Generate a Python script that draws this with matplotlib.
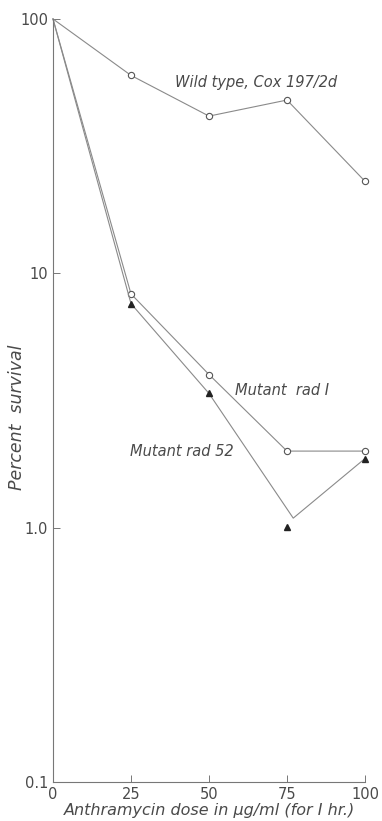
import matplotlib.pyplot as plt
import matplotlib.ticker as mticker

# Data
dose = [0, 25, 50, 75, 100]
wild_type = [100, 60, 41.5, 48, 23]
rad1 = [100, 8.3, 4.0, 2.0, 2.0]
# rad 52: line vertex near 75 does not sit on the plotted triangle
rad52_line_dose = [0, 25, 50, 77, 100]
rad52_line = [100, 7.6, 3.37, 1.09, 1.87]
rad52_pts_dose = [25, 50, 75, 100]
rad52_pts = [7.6, 3.37, 1.01, 1.87]

ytick_vals = [0.1, 1.0, 10, 100]
ytick_labels = ['0.1', '1.0', '10', '100']
xtick_vals = [0, 25, 50, 75, 100]

ink = '#4a4a4a'
line_col = '#8a8a8a'

plt.rcParams['font.family'] = ['DejaVu Sans']

fig = plt.figure(figsize=(3.82, 8.21), dpi=100)
ax = fig.add_axes([0.1387, 0.0475, 0.8168, 0.9294])

ax.plot(dose, wild_type, color=line_col, lw=0.8, clip_on=False)
ax.plot(dose[1:], wild_type[1:], 'o', mfc='white', mec='#555555', mew=0.8, ms=4.5, clip_on=False)

ax.plot(dose, rad1, color=line_col, lw=0.8, clip_on=False)
ax.plot(dose[1:], rad1[1:], 'o', mfc='white', mec='#555555', mew=0.8, ms=4.5, clip_on=False)

ax.plot(rad52_line_dose, rad52_line, color=line_col, lw=0.8, clip_on=False)
ax.plot(rad52_pts_dose, rad52_pts, '^', color='#222222', ms=5, clip_on=False)

ax.set_yscale('log')
ax.set_xlim(0, 100)
ax.set_ylim(0.1, 100)
ax.yaxis.set_major_locator(mticker.FixedLocator(ytick_vals))
ax.yaxis.set_major_formatter(mticker.FixedFormatter(ytick_labels))
ax.yaxis.set_minor_locator(mticker.NullLocator())
ax.set_xticks(xtick_vals)

for s in ['top', 'right']:
    ax.spines[s].set_visible(False)
for s in ['left', 'bottom']:
    ax.spines[s].set_color('#777777')
    ax.spines[s].set_linewidth(0.8)
ax.tick_params(direction='in', length=5, width=0.7, color='#777777',
               labelcolor=ink, labelsize=10.5)

ax.text(39, 56.5, 'Wild type, Cox 197/2d', fontsize=10.5, color=ink,
        style='italic', va='center')
ax.text(58.3, 3.45, 'Mutant  rad I', fontsize=10.5, color=ink,
        style='italic', va='center')
ax.text(24.7, 2.0, 'Mutant rad 52', fontsize=10.5, color=ink,
        style='italic', va='center')

ax.set_xlabel('Anthramycin dose in μg/ml (for I hr.)', fontsize=11.5,
              color=ink, style='italic', labelpad=1)
fig.text(0.045, 1 - 417 / 821, 'Percent  survival', rotation=90, fontsize=12.5,
         color=ink, style='italic', ha='center', va='center')

fig.savefig('out.png', dpi=100)
